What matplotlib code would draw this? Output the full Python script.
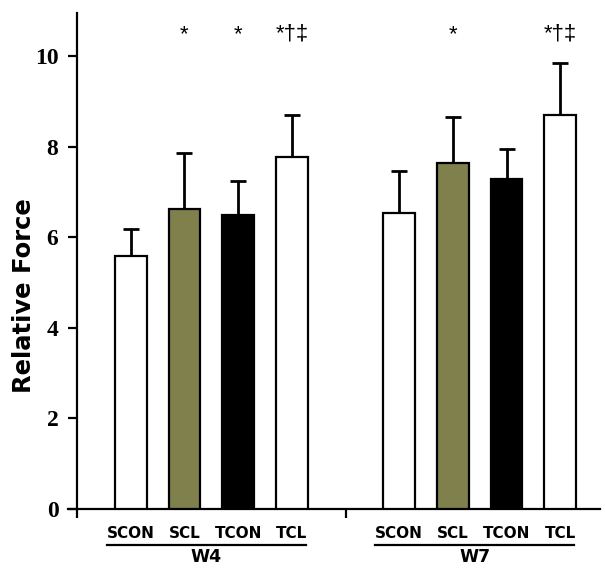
import numpy as np
import matplotlib
matplotlib.use('Agg')
import matplotlib.pyplot as plt
from matplotlib.lines import Line2D

# ── Data ───────────────────────────────────────────────────────────────────────
groups     = ['W4', 'W7']
conditions = ['SCON', 'SCL', 'TCON', 'TCL']
w4_mean = [5.59, 6.62, 6.48, 7.76]
w4_err  = [0.59, 1.24, 0.76, 0.94]
w7_mean = [6.53, 7.63, 7.28, 8.69]
w7_err  = [0.93, 1.03, 0.67, 1.16]
w4_marks = ['', '*', '*', '*†‡']
w7_marks = ['', '*', '', '*†‡']

bar_colors = ['white', '#80804d', 'black', 'white']

# ── Figure ─────────────────────────────────────────────────────────────────────
fig = plt.figure(figsize=(6.05, 5.71), dpi=100)
ax = fig.add_axes([68 / 605, 1 - 509 / 571, 532 / 605, (509 - 13) / 571])

pos_w4 = np.arange(4)
pos_w7 = np.arange(4) + 5
width = 0.59

for pos, means, errs, marks in [(pos_w4, w4_mean, w4_err, w4_marks),
                                (pos_w7, w7_mean, w7_err, w7_marks)]:
    ax.errorbar(pos, means, yerr=[np.zeros(4), errs], fmt='none',
                ecolor='black', elinewidth=2, capsize=5.5, capthick=2, zorder=2)
    ax.bar(pos, means, width=width, color=bar_colors, edgecolor='black',
           linewidth=1.6, zorder=3)
    for p, m in zip(pos, marks):
        if m:
            ax.text(p, 10.36, m, ha='center', va='baseline', fontsize=16,
                    family='Liberation Sans')

ax.set_xlim(-1.17, 8.74)
ax.set_ylim(0, 10.95)
ax.spines['top'].set_visible(False)
ax.spines['right'].set_visible(False)
ax.spines['left'].set_position(('data', -1))
for s in ['left', 'bottom']:
    ax.spines[s].set_linewidth(1.6)

ax.set_yticks([0, 2, 4, 6, 8, 10])
ax.set_yticklabels(['0', '2', '4', '6', '8', '10'], family='Liberation Serif',
                   fontweight='bold', fontsize=17)
ax.set_xticks([-1, 4])
ax.set_xticklabels([])
ax.tick_params(axis='both', direction='out', length=6.5, width=1.6)
ax.tick_params(axis='y', pad=7)

ax.set_ylabel('Relative Force', fontsize=17.5, fontweight='bold',
              family='DejaVu Sans')
ax.yaxis.set_label_coords(-0.06, 0.43)

# category labels, underline, group labels
for pos, grp in [(pos_w4, groups[0]), (pos_w7, groups[1])]:
    for p, c in zip(pos, conditions):
        ax.text(p, -0.53, c, ha='center', va='center', fontsize=11,
                fontweight='bold', family='DejaVu Sans', clip_on=False)
    x0, x1 = pos[0] - 0.45, pos[-1] + 0.26
    ax.add_line(Line2D([x0, x1], [-0.79, -0.79], color='black', lw=1.6,
                       clip_on=False))
    ax.text((x0 + x1) / 2, -1.05, grp, ha='center', va='center', fontsize=12.5,
            fontweight='bold', family='DejaVu Sans', clip_on=False)

fig.savefig('out.png', dpi=100)
